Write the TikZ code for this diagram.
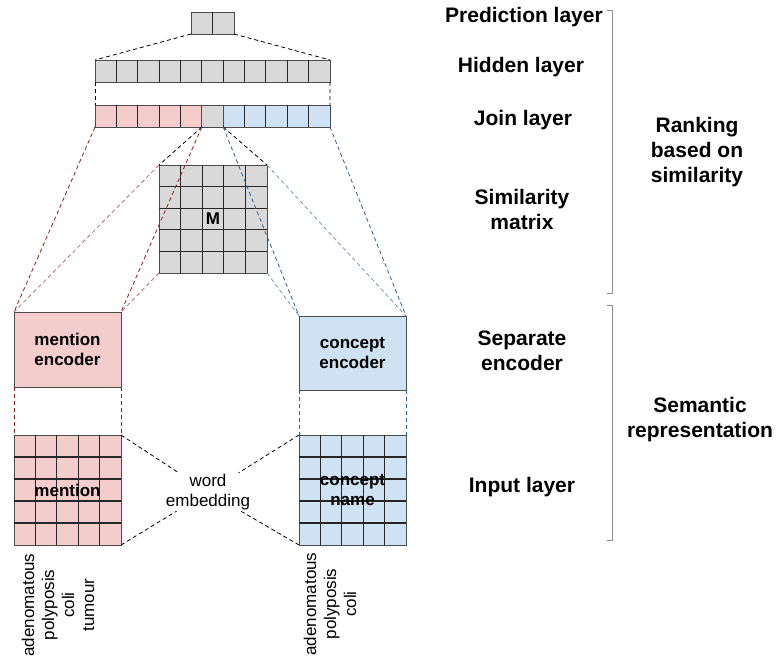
\documentclass[tikz,border=0pt]{standalone}
\usepackage{fontspec}
\setmainfont{Liberation Sans}
\usetikzlibrary{calc}

\definecolor{cellgray}{HTML}{D9D9D9}
\definecolor{cellpink}{HTML}{F4CCCC}
\definecolor{cellblue}{HTML}{CFE2F3}
\definecolor{linkred}{HTML}{8E1F1F}
\definecolor{linkredlt}{HTML}{BF6A6A}
\definecolor{linkblue}{HTML}{2F5F93}
\definecolor{linkbluelt}{HTML}{7098C0}
\definecolor{bracketgray}{HTML}{8C8C8C}

\begin{document}
\begin{tikzpicture}[x=1pt,y=-1pt,
  box/.style={draw=black!70, line width=1pt, rectangle, inner sep=0pt, outer sep=0pt, anchor=north west},
  cellline/.style={draw=black!85, line width=1.1pt},
  link/.style={dash pattern=on 4pt off 3pt, line width=0.8pt},
  layerlbl/.style={font=\bfseries\fontsize{21}{25}\selectfont, align=center, inner sep=0pt},
  boxlbl/.style={font=\bfseries\fontsize{17}{20}\selectfont, align=center, inner sep=0pt},
  wordlbl/.style={font=\fontsize{17}{20}\selectfont, align=center, inner sep=0pt},
  brace/.style={draw=bracketgray, line width=0.8pt}
]
\useasboundingbox (0,0) rectangle (776,662);

% prediction layer
\node[box, fill=cellgray, minimum width=43pt, minimum height=22pt] (pred) at (191,12) {};
\draw[cellline] (pred.north) -- (pred.south);

% hidden layer
\node[box, fill=cellgray, minimum width=235pt, minimum height=22pt] (hid) at (95,60) {};
\foreach \i in {1,...,10}
  \draw[cellline] ($(hid.north west)!\i/11!(hid.north east)$) -- ($(hid.south west)!\i/11!(hid.south east)$);

% join layer: mention part, similarity cell, concept part
\node[box, fill=cellpink, minimum width=106.8pt, minimum height=22pt] (joinm) at (95,105) {};
\node[box, fill=cellgray, minimum width=21.4pt, minimum height=22pt] (joins) at (joinm.north east) {};
\node[box, fill=cellblue, minimum width=106.8pt, minimum height=22pt] (joinc) at (joins.north east) {};
\foreach \i in {1,...,4} {
  \draw[cellline] ($(joinm.north west)!\i/5!(joinm.north east)$) -- ($(joinm.south west)!\i/5!(joinm.south east)$);
  \draw[cellline] ($(joinc.north west)!\i/5!(joinc.north east)$) -- ($(joinc.south west)!\i/5!(joinc.south east)$);
}

% similarity matrix
\node[box, fill=cellgray, minimum width=108pt, minimum height=108pt] (simm) at (159,165) {};
\foreach \i in {1,...,4} {
  \draw[cellline] ($(simm.north west)!\i/5!(simm.north east)$) -- ($(simm.south west)!\i/5!(simm.south east)$);
  \draw[cellline] ($(simm.north west)!\i/5!(simm.south west)$) -- ($(simm.north east)!\i/5!(simm.south east)$);
}
\node[boxlbl] (mlbl) at (simm.center) {M};

% encoders
\node[box, fill=cellpink, minimum width=107pt, minimum height=75pt, boxlbl] (menc) at (14,312) {mention\\encoder};
\node[box, fill=cellblue, minimum width=107pt, minimum height=74pt, boxlbl] (cenc) at (299,316) {concept\\encoder};

% input grids
\node[box, fill=cellpink, minimum width=107pt, minimum height=110pt] (mgrid) at (14,435) {};
\node[box, fill=cellblue, minimum width=107pt, minimum height=110pt] (cgrid) at (299,435) {};
\foreach \g in {mgrid,cgrid}
  \foreach \i in {1,...,4} {
    \draw[cellline] ($(\g.north west)!\i/5!(\g.north east)$) -- ($(\g.south west)!\i/5!(\g.south east)$);
    \draw[cellline] ($(\g.north west)!\i/5!(\g.south west)$) -- ($(\g.north east)!\i/5!(\g.south east)$);
  }
\node[boxlbl] (mname) at (mgrid.center) {mention};
\node[boxlbl] (cname) at (cgrid.center) {concept\\name};

% word embedding
\node[wordlbl, inner sep=1pt] (wemb) at (208,492) {word\\embedding};

% tokens
\node[wordlbl, rotate=90] (mtok) at (58,605) {adenomatous\\polyposis\\coli\\tumour};
\node[wordlbl, rotate=90] (ctok) at (330,604) {adenomatous\\polyposis\\coli};

% connectors
\draw[link] (pred.south west) -- (hid.north west);
\draw[link] (pred.south east) -- (hid.north east);
\draw[link] (hid.south west) -- (joinm.north west);
\draw[link] (hid.south east) -- (joinc.north east);
\draw[link] (joins.south west) -- (simm.north west);
\draw[link] (joins.south east) -- (simm.north east);
\draw[link, linkredlt] (simm.north west) -- (menc.north west);
\draw[link, linkredlt] (simm.south west) -- (menc.north east);
\draw[link, linkbluelt] (simm.north east) -- (cenc.north east);
\draw[link, linkbluelt] (simm.south east) -- (cenc.north west);
\draw[link, linkred] (joinm.south west) -- (menc.north west);
\draw[link, linkred] (joinm.south east) -- (menc.north east);
\draw[link, linkblue] (joinc.south west) -- (cenc.north west);
\draw[link, linkblue] (joinc.south east) -- (cenc.north east);
\draw[link, linkred] (menc.south west) -- (mgrid.north west);
\draw[link, linkred] (menc.south east) -- (mgrid.north east);
\draw[link, linkblue] (cenc.south west) -- (cgrid.north west);
\draw[link, linkblue] (cenc.south east) -- (cgrid.north east);
\draw[link] (mgrid.north east) -- (wemb);
\draw[link] (mgrid.south east) -- (wemb);
\draw[link] (cgrid.north west) -- (wemb);
\draw[link] (cgrid.south west) -- (wemb);

% layer names
\node[layerlbl] (lpred) at (524,17) {Prediction layer};
\node[layerlbl] (lhid) at (521,67) {Hidden layer};
\node[layerlbl] (ljoin) at (523,120) {Join layer};
\node[layerlbl] (lsim) at (522,209) {Similarity\\matrix};
\node[layerlbl] (lenc) at (522,351) {Separate\\encoder};
\node[layerlbl] (linp) at (522,487) {Input layer};

% groupings
\draw[brace] (607,10) -- (612,10) -- (612,293) -- (607,293);
\draw[brace] (607,305) -- (612,305) -- (612,540) -- (607,540);
\node[layerlbl] (grank) at (697,152) {Ranking\\based on\\similarity};
\node[layerlbl] (gsem) at (700,420) {Semantic\\representation};
\end{tikzpicture}
\end{document}
